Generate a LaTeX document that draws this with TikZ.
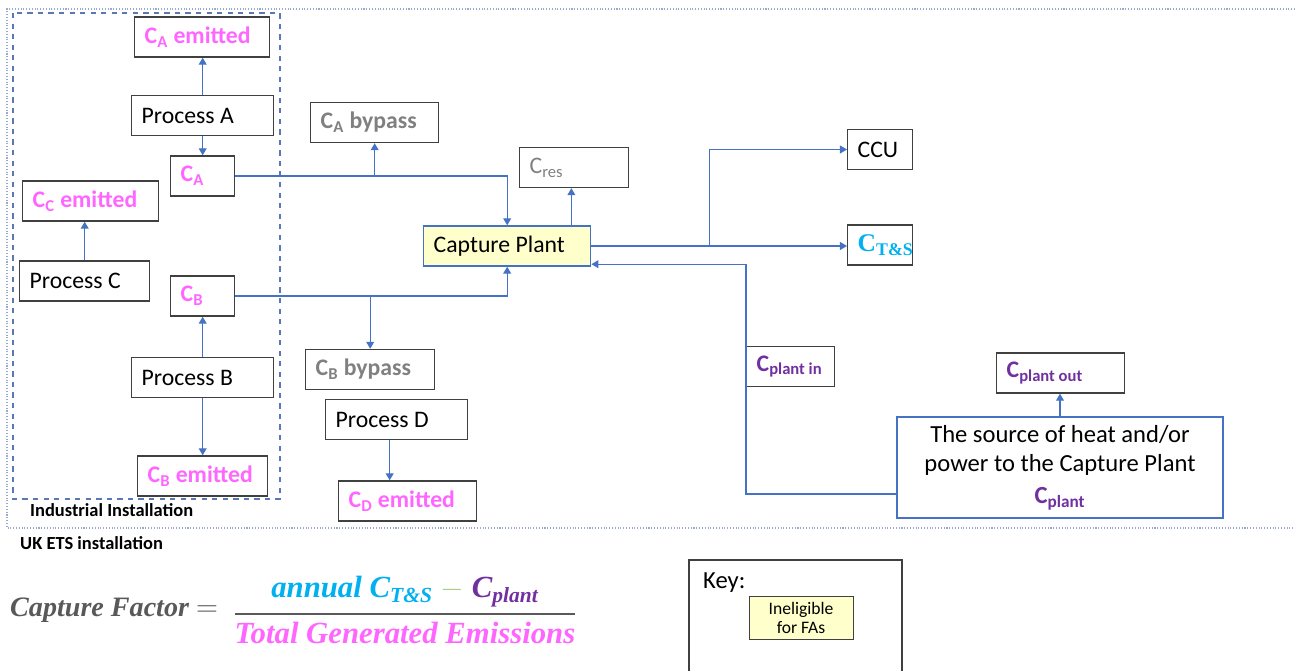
\documentclass[tikz,border=0pt]{standalone}
\usepackage{fontspec}
\setmainfont{Carlito}
\newfontfamily\formfont{Liberation Serif}
\usetikzlibrary{arrows.meta}

\definecolor{linkblue}{RGB}{68,114,196}
\definecolor{emitpink}{RGB}{255,102,255}
\definecolor{bypassgray}{RGB}{128,128,128}
\definecolor{tscyan}{RGB}{0,176,240}
\definecolor{plantpurple}{RGB}{112,48,160}
\definecolor{boxgray}{RGB}{64,64,64}
\definecolor{plantyellow}{RGB}{255,255,204}
\definecolor{minusgreen}{RGB}{169,209,142}
\definecolor{formgray}{RGB}{89,89,89}
\definecolor{etsblue}{RGB}{150,170,210}
\definecolor{instblue}{RGB}{90,120,180}

\tikzset{
  box/.style={rectangle, draw=boxgray, line width=0.8pt, anchor=west, align=flush left, inner xsep=0.2cm, minimum height=0.8cm, font=\fontsize{13.5}{16}\selectfont},
  emit/.style={box, text=emitpink, font=\fontsize{13.5}{16}\selectfont\bfseries},
  bypass/.style={box, text=bypassgray, font=\fontsize{13.5}{16}\selectfont\bfseries},
  plant/.style={box, text=plantpurple, font=\fontsize{13.5}{16}\selectfont\bfseries},
  flow/.style={draw=linkblue, line width=0.7pt, -{Triangle[width=4.5pt,length=4pt]}},
  caption/.style={anchor=west, font=\fontsize{10.5}{12}\selectfont\bfseries}
}

\begin{document}
\begin{tikzpicture}[x=0.02cm, y=-0.02cm]
	\useasboundingbox (0,0) rectangle (1295,671);
	% installation borders
	\draw[etsblue, densely dotted, line width=0.6pt] (1295,9) -- (7,9) -- (7,528) -- (1295,528);
	\draw[instblue, dashed, line width=0.7pt] (13,13) rectangle (280,499);
	\node[caption] (indlbl) at (24,510) {Industrial Installation};
	\node[caption] (etslbl) at (14,543) {UK ETS installation};

	% industrial processes
	\node[emit, text width=2.30cm] (cae) at (134,37) {C\textsubscript{A} emitted};
	\node[box, text width=2.44cm] (pa) at (131,115.5) {Process A};
	\node[emit, text width=0.88cm] (ca) at (170,176) {C\textsubscript{A}};
	\node[emit, text width=2.32cm] (cce) at (22,201) {C\textsubscript{C} emitted};
	\node[box, text width=2.20cm] (pc) at (19,281) {Process C};
	\node[emit, text width=0.88cm] (cb) at (170,296) {C\textsubscript{B}};
	\node[box, text width=2.44cm] (pb) at (131,377.5) {Process B};
	\node[emit, text width=2.20cm] (cbe) at (137,476) {C\textsubscript{B} emitted};

	\node[bypass, text width=2.16cm] (cabp) at (310,122.5) {C\textsubscript{A} bypass};
	\node[bypass, text width=2.18cm] (cbbp) at (305,369.5) {C\textsubscript{B} bypass};
	\node[box, text width=2.44cm] (pd) at (325,419.5) {Process D};
	\node[emit, text width=2.36cm] (cde) at (338,501) {C\textsubscript{D} emitted};

	% capture plant and outputs
	\node[box, text=bypassgray, text width=1.78cm] (cres) at (519,167.5) {C\textsubscript{res}};
	\node[box, draw=linkblue, fill=plantyellow, text width=2.94cm] (cp) at (423,246) {Capture Plant};
	\node[box, text width=0.90cm] (ccu) at (847,149.5) {CCU};
	\node[box, text=tscyan, text width=0.90cm, font=\formfont\fontsize{14.5}{16}\selectfont\bfseries] (cts) at (847,245) {C\textsubscript{T\&S}};
	\node[plant, text width=1.36cm] (cpin) at (746,366.5) {C\textsubscript{plant in}};
	\node[plant, text width=2.16cm] (cpout) at (996,373) {C\textsubscript{plant out}};
	\node[box, draw=linkblue, anchor=center, align=center, minimum width=6.52cm, minimum height=2.02cm, font=\fontsize{14}{17}\selectfont] (src) at (1060,467.5) {The source of heat and/or\\power to the Capture Plant\\[1pt]{\color{plantpurple}\bfseries C\textsubscript{plant}}};

	% connectors
	\draw[flow] (pa.north) -- (pa.north |- cae.south);
	\draw[flow] (pa.south) -- (pa.south |- ca.north);
	\draw[flow] (pc.north) -- (pc.north |- cce.south);
	\draw[flow] (pb.north) -- (pb.north |- cb.south);
	\draw[flow] (pb.south) -- (pb.south |- cbe.north);
	\draw[flow] (ca.east) -| (cp.north);
	\coordinate (ja) at (ca.east -| cabp.south);
	\draw[flow] (ja) -- (cabp.south);
	\draw[flow] (cb.east) -| (cp.south);
	\coordinate (jb) at (cb.east -| cbbp.north);
	\draw[flow] (jb) -- (cbbp.north);
	\draw[flow] ([xshift=-0.14cm]pd.south) -- ([xshift=-0.14cm]pd.south |- cde.north);
	\draw[flow] ([xshift=-0.4cm]cp.north east) -- ([xshift=-0.4cm]cp.north east |- cres.south);
	\draw[flow] (cp.east) -- (cp.east -| cts.west);
	\coordinate (jc) at ([xshift=2.36cm]cp.east);
	\draw[flow] (jc) |- (ccu.west);
	\coordinate (cpret) at ([yshift=0.05cm]cp.south east);
	\draw[flow] ([yshift=-0.53cm]src.west) -| (cpin.west |- cpret) -- (cpret);
	\draw[flow] (src.north) -- (src.north |- cpout.south);

	% formula
	\node[anchor=west, text=formgray, font=\formfont\fontsize{16}{18}\selectfont\bfseries\itshape] (cflhs) at (4,610) {Capture Factor $=$};
	\node[text=formgray, font=\formfont\fontsize{17.5}{20}\selectfont\bfseries\itshape] (cfrhs) at (405,610) {$\displaystyle{\mbox{\color{tscyan}annual C\textsubscript{T\&S} \color{minusgreen}$-$ \color{plantpurple}C\textsubscript{plant}} \above 1.2pt \mbox{\color{emitpink}Total Generated Emissions}}$};

	% key
	\draw[boxgray, line width=0.8pt] (689,671) |- (902,560) -- (902,671);
	\node[anchor=west, font=\fontsize{14}{16}\selectfont] (keylbl) at (697,583) {Key:};
	\node[rectangle, draw=boxgray, fill=plantyellow, align=center, minimum width=2.08cm, minimum height=0.84cm, font=\fontsize{10}{11}\selectfont] (inel) at (801,618) {Ineligible\\for FAs};
\end{tikzpicture}
\end{document}
